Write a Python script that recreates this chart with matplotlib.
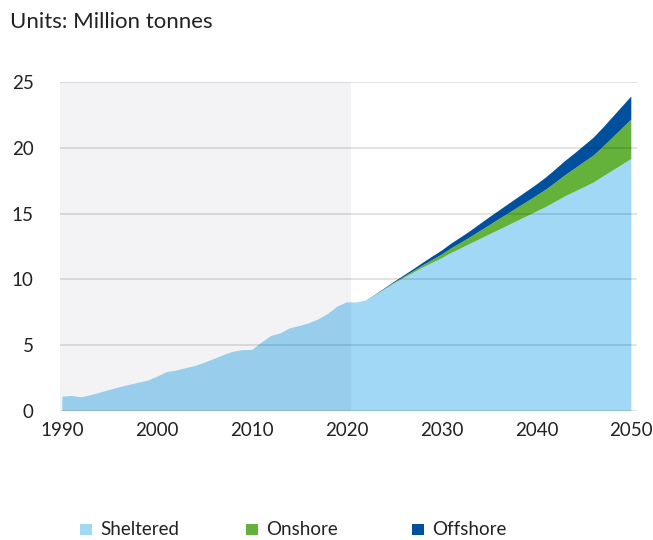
import matplotlib
matplotlib.use('Agg')
import matplotlib.pyplot as plt
from matplotlib.patches import Rectangle
import numpy as np

plt.rcParams['font.family'] = ['Lato', 'DejaVu Sans']

years = list(range(1990, 2051))

# Million tonnes
sheltered = [1.09, 1.14, 1.04, 1.2, 1.4, 1.6, 1.8, 1.97, 2.15, 2.3, 2.6,
             2.96, 3.07, 3.25, 3.42, 3.67, 3.95, 4.25, 4.5, 4.63, 4.63,
             5.19, 5.7, 5.9, 6.28, 6.46, 6.66, 6.96, 7.37, 7.93, 8.26,
             8.24, 8.4, 8.8, 9.25, 9.7, 10.1, 10.5, 10.9, 11.25, 11.6,
             12.0, 12.35, 12.7, 13.05, 13.4, 13.75, 14.1, 14.45, 14.8, 15.15,
             15.5, 15.9, 16.3, 16.65, 17.0, 17.35, 17.8, 18.25, 18.7, 19.15]
onshore = [0.0] * 32 + [0.0, 0.02, 0.04, 0.06, 0.09, 0.12, 0.16, 0.22, 0.28,
                        0.35, 0.42, 0.5, 0.6, 0.7, 0.8, 0.9, 1.0, 1.1, 1.2,
                        1.32, 1.45, 1.6, 1.75, 1.9, 2.05, 2.25, 2.5, 2.75, 3.0]
offshore = [0.0] * 32 + [0.0, 0.02, 0.04, 0.06, 0.1, 0.14, 0.19, 0.25, 0.3,
                         0.36, 0.41, 0.46, 0.53, 0.6, 0.65, 0.7, 0.75, 0.8, 0.85,
                         0.92, 1.0, 1.08, 1.15, 1.25, 1.35, 1.45, 1.55, 1.65, 1.75]

labels = ['Sheltered', 'Onshore', 'Offshore']
colours = ['#a0d8f5', '#64b23c', '#00509e']
hist_end = 2020.4

fig = plt.figure(figsize=(6.53, 5.4), dpi=100)
ax = fig.add_axes([60/653, 1-411/540, 577/653, 329/540])

ax.stackplot(years, sheltered, onshore, offshore, colors=colours,
             labels=labels, linewidth=0, zorder=1)
# shaded history, drawn over the areas
ax.axvspan(1989.75, hist_end, color=(20/255, 30/255, 60/255), alpha=0.05,
           lw=0, zorder=2)

ax.set_xlim(1989.75, 2050.6)
ax.set_ylim(0, 25)
ax.set_xticks([1990, 2000, 2010, 2020, 2030, 2040, 2050])
ax.set_yticks([0, 5, 10, 15, 20, 25])
ax.grid(axis='y', color='k', alpha=0.13, lw=1.2, zorder=3)
ax.set_axisbelow(False)
for s in ax.spines.values():
    s.set_visible(False)
ax.tick_params(length=0, labelsize=13.5, colors='#222222')
ax.tick_params(axis='y', pad=19)
ax.tick_params(axis='x', pad=8)

fig.text(10/653, 1-22/540, 'Units: Million tonnes', fontsize=16,
         color='#222222', va='center', ha='left')

# legend along the bottom
lx = [80, 246, 412]
for x, lab, c in zip(lx, labels, colours):
    fig.patches.append(Rectangle((x/653, 1-535/540), 12/653, 11/540,
                                 transform=fig.transFigure, color=c, lw=0))
    fig.text((x+20)/653, 1-535/540, lab, fontsize=13.5, color='#222222',
             va='baseline', ha='left')

fig.savefig('out.png', dpi=100)
